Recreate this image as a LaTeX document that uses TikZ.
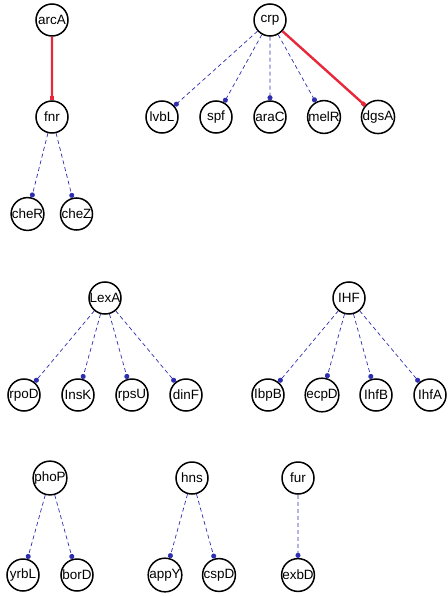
\documentclass[tikz,border=0pt]{standalone}
\usepackage{fontspec}
\setmainfont{Liberation Sans}
\usetikzlibrary{trees, arrows.meta}

\definecolor{linkblue}{RGB}{45,45,175}
\definecolor{linkred}{RGB}{232,40,58}

\begin{document}
\begin{tikzpicture}[
  x=1bp, y=1bp,
  level distance=97bp,
  level 1/.style={sibling distance=54bp},
  level 2/.style={sibling distance=49bp},
  gene/.style={circle, draw=black, text=black, line width=1.5bp, minimum size=32bp, inner sep=0pt,
    font=\fontsize{13.5}{14}\selectfont},
  edge from parent/.style={draw, linkblue, dash pattern=on 4bp off 3bp, line width=.7bp,
    -{Circle[length=5bp]}},
  strong/.style={linkred, solid, line width=2.4bp, -{Square[length=4bp,width=4bp]}}]

  \useasboundingbox (0,0) rectangle (448,-596);

  \node[gene](arcA) at (52,-20) {arcA}
	child {node[gene](fnr){fnr}
		child {node[gene](cheR){cheR}}
		child {node[gene](cheZ){cheZ}}
		edge from parent[strong]
	};

  \node[gene](crp) at (270,-20) {crp}
	child {node[gene](lvbL){lvbL}}
	child {node[gene](spf){spf}}
	child {node[gene](araC){araC}}
	child {node[gene](melR){melR}}
	child {node[gene](dgsA){dgsA} edge from parent[strong]};

  \node[gene](LexA) at (105,-298) {LexA}
	child {node[gene](rpoD){rpoD}}
	child {node[gene](InsK){InsK}}
	child {node[gene](rpsU){rpsU}}
	child {node[gene](dinF){dinF}};

  \node[gene](IHF) at (349,-298) {IHF}
	child {node[gene](IbpB){IbpB}}
	child {node[gene](ecpD){ecpD}}
	child {node[gene](IhfB){IhfB}}
	child {node[gene](IhfA){IhfA}};

  % small two-gene regulons
  \node[gene](phoP) at (50,-478) {phoP} [sibling distance=50bp]
	child {node[gene](yrbL){yrbL}}
	child {node[gene](borD){borD}};
  \node[gene](hns) at (192,-478) {hns} [sibling distance=50bp]
	child {node[gene](appY){appY}}
	child {node[gene](cspD){cspD}};
  \node[gene](fur) at (298,-478) {fur}
	child {node[gene](exbD){exbD}};
\end{tikzpicture}
\end{document}
